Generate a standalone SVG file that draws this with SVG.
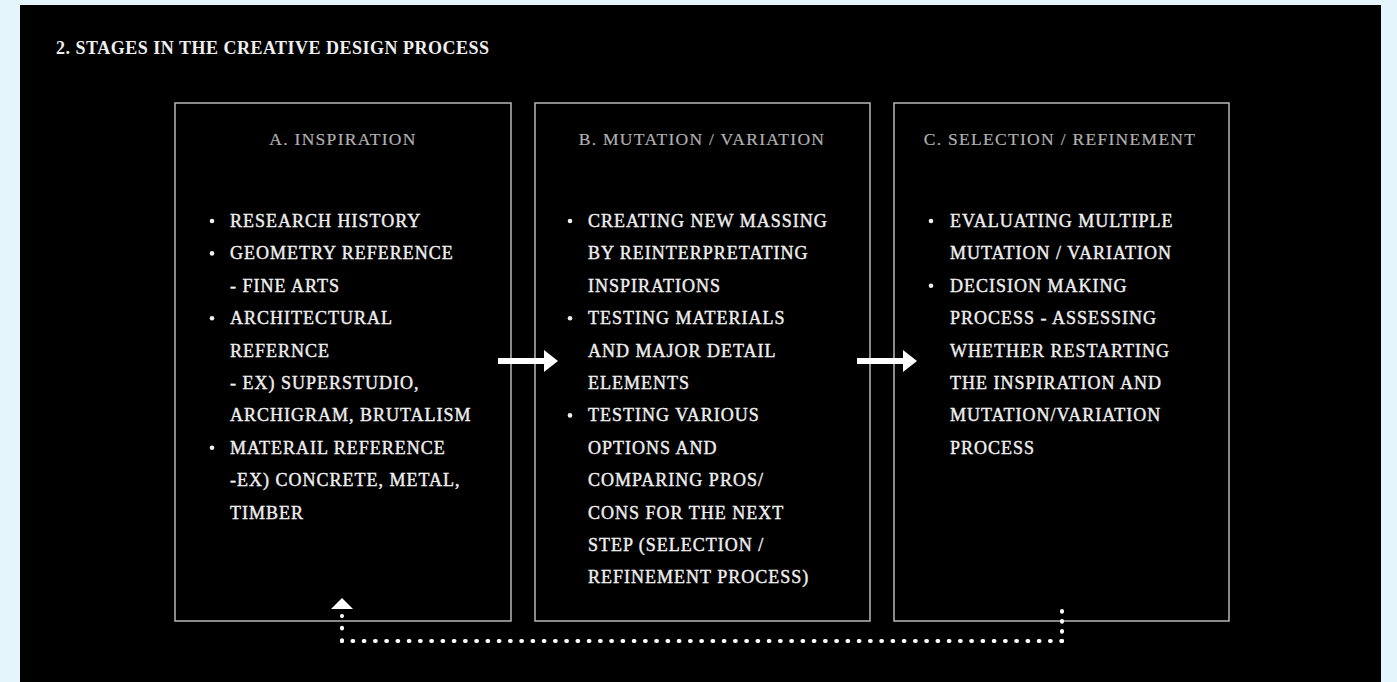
<svg xmlns="http://www.w3.org/2000/svg" width="1397" height="682" viewBox="0 0 1397 682">
<style>
.box{fill:none;stroke:#b8b8b8;stroke-width:1.5}
.hd{font-family:"Liberation Serif",serif;font-size:17.5px;letter-spacing:1.3px;fill:#b0b0b0;stroke:#b0b0b0;stroke-width:0.2;text-anchor:middle}
.it{font-family:"Liberation Serif",serif;font-size:18px;letter-spacing:1px;fill:#efefef;stroke:#efefef;stroke-width:0.4}
.bl{fill:#efefef}
.title{font-family:"Liberation Serif",serif;font-size:18px;font-weight:bold;letter-spacing:0.5px;fill:#efefef}
.dot{fill:none;stroke:#fff;stroke-width:4;stroke-linecap:round}
</style>
<defs>
<marker id="ah" markerWidth="14" markerHeight="22" refX="0" refY="11" orient="auto" markerUnits="userSpaceOnUse">
<path d="M0,0 L14,11 L0,22 Z" fill="#fff"/>
</marker>
</defs>
<rect x="0" y="0" width="1397" height="682" fill="#e4f5fc"/>
<rect x="20" y="5" width="1361" height="677" fill="#000"/>
<text class="title" x="56" y="54">2. STAGES IN THE CREATIVE DESIGN PROCESS</text>

<g id="nodeA">
<rect class="box" x="175" y="103" width="336" height="518"/>
<text class="hd" x="343" y="145">A. INSPIRATION</text>
<circle class="bl" cx="212" cy="221" r="2.3"/>
<circle class="bl" cx="212" cy="253.4" r="2.3"/>
<circle class="bl" cx="212" cy="318.2" r="2.3"/>
<circle class="bl" cx="212" cy="447.8" r="2.3"/>
<text class="it" x="230" y="227"><tspan x="230">RESEARCH HISTORY</tspan><tspan x="230" dy="32.4">GEOMETRY REFERENCE</tspan><tspan x="230" dy="32.4">- FINE ARTS</tspan><tspan x="230" dy="32.4">ARCHITECTURAL</tspan><tspan x="230" dy="32.4">REFERNCE</tspan><tspan x="230" dy="32.4">- EX) SUPERSTUDIO,</tspan><tspan x="230" dy="32.4">ARCHIGRAM, BRUTALISM</tspan><tspan x="230" dy="32.4">MATERAIL REFERENCE</tspan><tspan x="230" dy="32.4">-EX) CONCRETE, METAL,</tspan><tspan x="230" dy="32.4">TIMBER</tspan></text>
</g>

<g id="nodeB">
<rect class="box" x="535" y="103" width="335" height="518"/>
<text class="hd" x="702" y="145">B. MUTATION / VARIATION</text>
<circle class="bl" cx="570" cy="221" r="2.3"/>
<circle class="bl" cx="570" cy="318.2" r="2.3"/>
<circle class="bl" cx="570" cy="415.4" r="2.3"/>
<text class="it" x="588" y="227"><tspan x="588">CREATING NEW MASSING</tspan><tspan x="588" dy="32.4">BY REINTERPRETATING</tspan><tspan x="588" dy="32.4">INSPIRATIONS</tspan><tspan x="588" dy="32.4">TESTING MATERIALS</tspan><tspan x="588" dy="32.4">AND MAJOR DETAIL</tspan><tspan x="588" dy="32.4">ELEMENTS</tspan><tspan x="588" dy="32.4">TESTING VARIOUS</tspan><tspan x="588" dy="32.4">OPTIONS AND</tspan><tspan x="588" dy="32.4">COMPARING PROS/</tspan><tspan x="588" dy="32.4">CONS FOR THE NEXT</tspan><tspan x="588" dy="32.4">STEP (SELECTION /</tspan><tspan x="588" dy="32.4">REFINEMENT PROCESS)</tspan></text>
</g>

<g id="nodeC">
<rect class="box" x="894" y="103" width="335" height="518"/>
<text class="hd" x="1060" y="145">C. SELECTION / REFINEMENT</text>
<circle class="bl" cx="931" cy="221" r="2.3"/>
<circle class="bl" cx="931" cy="285.8" r="2.3"/>
<text class="it" x="950" y="227"><tspan x="950">EVALUATING MULTIPLE</tspan><tspan x="950" dy="32.4">MUTATION / VARIATION</tspan><tspan x="950" dy="32.4">DECISION MAKING</tspan><tspan x="950" dy="32.4">PROCESS - ASSESSING</tspan><tspan x="950" dy="32.4">WHETHER RESTARTING</tspan><tspan x="950" dy="32.4">THE INSPIRATION AND</tspan><tspan x="950" dy="32.4">MUTATION/VARIATION</tspan><tspan x="950" dy="32.4">PROCESS</tspan></text>
</g>

<g id="connectors">
<path d="M498,361 H544" stroke="#fff" stroke-width="6" marker-end="url(#ah)"/>
<path d="M857,361 H903" stroke="#fff" stroke-width="6" marker-end="url(#ah)"/>
<path class="dot" d="M1062,611 V641" stroke-dasharray="0.8 9.2"/>
<path class="dot" d="M1062,641 H342" stroke-dasharray="0.8 10.45"/>
<path class="dot" d="M342,641 V616" stroke-dasharray="0.8 11.7"/>
<path d="M342,598 L353,609 L331,609 Z" fill="#fff"/>
</g>
</svg>
